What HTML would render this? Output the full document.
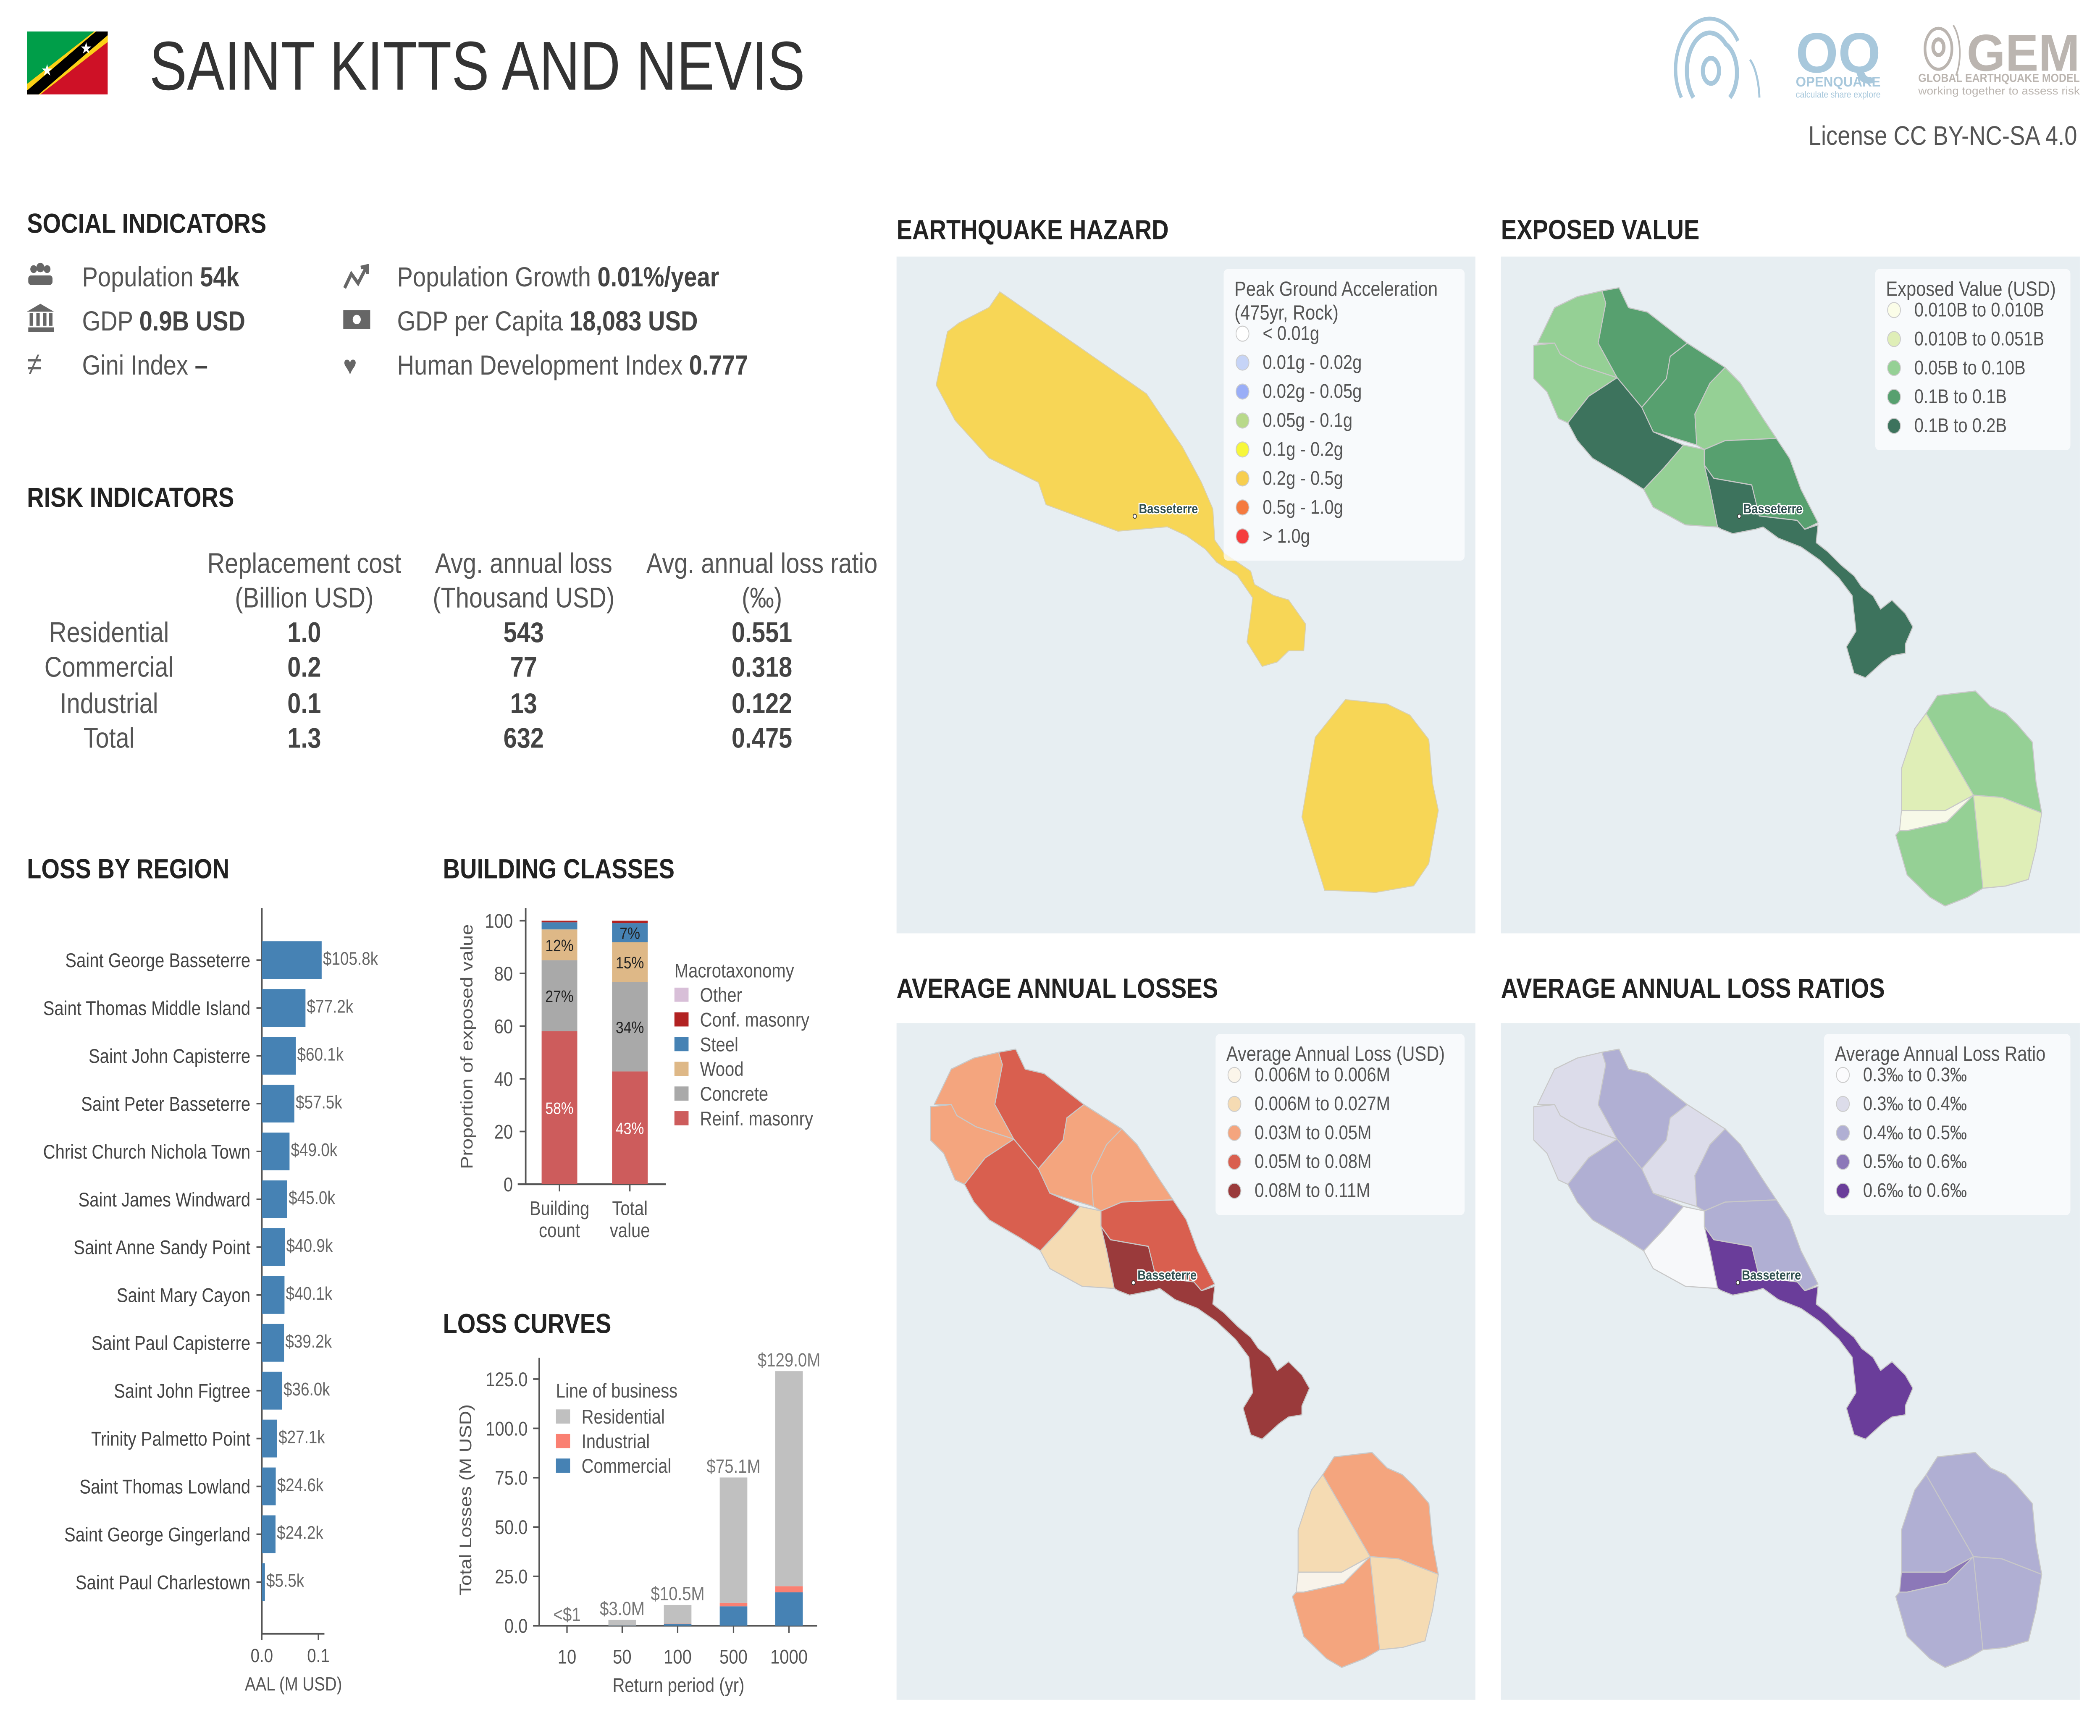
<!DOCTYPE html>
<html><head><meta charset="utf-8">
<style>
html,body{margin:0;padding:0;background:#fff;width:100%;height:100%;overflow:hidden;}
#root{position:fixed;left:0;top:0;width:100vw;height:100vh;display:block;}
text{font-family:"Liberation Sans",sans-serif;}
</style></head>
<body>
<svg id="root" xmlns="http://www.w3.org/2000/svg" viewBox="0 0 1560 1103" preserveAspectRatio="none">
<rect width="1560" height="1103" fill="#fff"/>

<g>
  <clipPath id="flagclip"><rect x="20" y="20" width="60" height="40"/></clipPath>
  <g clip-path="url(#flagclip)">
    <rect x="20" y="20" width="60" height="40" fill="#ce1126"/>
    <polygon points="20,20 80,20 20,60" fill="#009e49"/>
    <polygon points="10,60 70,20 90,20 30,60" fill="#fcd116"/>
    <polygon points="14,62 74,18 86,18 26,62" fill="#000"/>
    <text x="35" y="48" font-size="10" fill="#fff" text-anchor="middle">★</text>
    <text x="64" y="34" font-size="10" fill="#fff" text-anchor="middle">★</text>
  </g>
</g>
<text x="111" y="57" font-size="44" fill="#333" textLength="487" lengthAdjust="spacingAndGlyphs">SAINT KITTS AND NEVIS</text>

<g fill="none" stroke="#a8c8dc">
  <ellipse cx="1271" cy="45" rx="6" ry="8" stroke-width="3"/>
  <path d="M1258,62 A14,20 0 0 1 1282,28 A14,20 0 0 1 1285,62" stroke-width="3"/>
  <path d="M1249,62 A22,28 0 0 1 1291,26" stroke-width="2.5"/>
  <path d="M1300,38 A12,30 0 0 1 1307,62" stroke-width="1.5"/>
  <text x="1334" y="46" font-size="36" font-weight="bold" fill="#a8c8dc" stroke="none" textLength="63" lengthAdjust="spacingAndGlyphs">OQ</text>
  <text x="1334" y="55" font-size="9" font-weight="bold" fill="#a8c8dc" stroke="none" textLength="63" lengthAdjust="spacingAndGlyphs">OPENQUAKE</text>
  <text x="1334" y="62" font-size="6" fill="#a8c8dc" stroke="none" textLength="63" lengthAdjust="spacingAndGlyphs">calculate share explore</text>
</g>
<g fill="none" stroke="#bbb5b0">
  <ellipse cx="1440" cy="30" rx="4" ry="5" stroke-width="2.5"/>
  <ellipse cx="1440" cy="31" rx="10" ry="13" stroke-width="2"/>
  <path d="M1451,16 A12,22 0 0 1 1453,48" stroke-width="1.2"/>
  <text x="1461" y="45" font-size="33" font-weight="bold" fill="#bbb5b0" stroke="none" textLength="84" lengthAdjust="spacingAndGlyphs">GEM</text>
  <text x="1425" y="52" font-size="7.5" font-weight="bold" fill="#bbb5b0" stroke="none" textLength="120" lengthAdjust="spacingAndGlyphs">GLOBAL EARTHQUAKE MODEL</text>
  <text x="1425" y="60" font-size="7" fill="#bbb5b0" stroke="none" textLength="120" lengthAdjust="spacingAndGlyphs">working together to assess risk</text>
</g>
<text x="1543" y="92" font-size="17" fill="#555" text-anchor="end">License CC BY-NC-SA 4.0</text>

<g font-size="17.5" font-weight="bold" fill="#222">
<text x="20" y="148">SOCIAL INDICATORS</text>
<text x="20" y="322">RISK INDICATORS</text>
<text x="20" y="558">LOSS BY REGION</text>
<text x="329" y="558">BUILDING CLASSES</text>
<text x="329" y="847">LOSS CURVES</text>
<text x="666" y="152">EARTHQUAKE HAZARD</text>
<text x="1115" y="152">EXPOSED VALUE</text>
<text x="666" y="634">AVERAGE ANNUAL LOSSES</text>
<text x="1115" y="634">AVERAGE ANNUAL LOSS RATIOS</text>
</g>

<g font-size="17.5" fill="#555">
  <g fill="#666">
    <circle cx="25" cy="171" r="2.5"/><circle cx="30" cy="170" r="3"/><circle cx="35" cy="171" r="2.5"/>
    <rect x="21" y="175" width="18" height="6" rx="2"/>
  </g>
  <text x="61" y="182">Population <tspan font-weight="bold" fill="#444">54k</tspan></text>
  <g fill="#666">
    <polygon points="20,198 30,193 40,198"/><rect x="21" y="208" width="19" height="3"/>
    <rect x="22" y="199" width="2.5" height="8"/><rect x="27" y="199" width="2.5" height="8"/><rect x="32" y="199" width="2.5" height="8"/><rect x="36.5" y="199" width="2.5" height="8"/>
  </g>
  <text x="61" y="210">GDP <tspan font-weight="bold" fill="#444">0.9B USD</tspan></text>
  <text x="20" y="238" font-size="20" fill="#666">≠</text>
  <text x="61" y="238">Gini Index <tspan font-weight="bold" fill="#444">–</tspan></text>

  <path d="M256,183 L261,174 L266,180 L272,170 M268,170 L273,169 L273,174" stroke="#666" stroke-width="2.3" fill="none"/>
  <text x="295" y="182">Population Growth <tspan font-weight="bold" fill="#444">0.01%/year</tspan></text>
  <g><rect x="255" y="197" width="20" height="12" fill="#666"/><circle cx="265" cy="203" r="3" fill="#fff"/></g>
  <text x="295" y="210">GDP per Capita <tspan font-weight="bold" fill="#444">18,083 USD</tspan></text>
  <text x="255" y="238" font-size="17" fill="#666">♥</text>
  <text x="295" y="238">Human Development Index <tspan font-weight="bold" fill="#444">0.777</tspan></text>
</g>

<g font-size="18" fill="#555" text-anchor="middle">
  <text x="226" y="364">Replacement cost</text><text x="226" y="386">(Billion USD)</text>
  <text x="389" y="364">Avg. annual loss</text><text x="389" y="386">(Thousand USD)</text>
  <text x="566" y="364">Avg. annual loss ratio</text><text x="566" y="386">(‰)</text>
  <text x="81" y="408">Residential</text><text x="81" y="430">Commercial</text><text x="81" y="453">Industrial</text><text x="81" y="475">Total</text>
  <g font-weight="bold" fill="#444">
    <text x="226" y="408">1.0</text><text x="226" y="430">0.2</text><text x="226" y="453">0.1</text><text x="226" y="475">1.3</text>
    <text x="389" y="408">543</text><text x="389" y="430">77</text><text x="389" y="453">13</text><text x="389" y="475">632</text>
    <text x="566" y="408">0.551</text><text x="566" y="430">0.318</text><text x="566" y="453">0.122</text><text x="566" y="475">0.475</text>
  </g>
</g>

<g id="regionChart"></g>
<g id="classChart"></g>
<g id="curveChart"></g>
<g id="maps"></g>
</svg>

<script>
const regionNames = ["Saint George Basseterre","Saint Thomas Middle Island","Saint John Capisterre","Saint Peter Basseterre","Christ Church Nichola Town","Saint James Windward","Saint Anne Sandy Point","Saint Mary Cayon","Saint Paul Capisterre","Saint John Figtree","Trinity Palmetto Point","Saint Thomas Lowland","Saint George Gingerland","Saint Paul Charlestown"];
const regionAAL = [105.8,77.2,60.1,57.5,49.0,45.0,40.9,40.1,39.2,36.0,27.1,24.6,24.2,5.5];
const regionTicks = [0.0, 0.1];

const classCategories = ["Building count","Total value"];
const classNames = ["Reinf. masonry","Concrete","Wood","Steel","Conf. masonry","Other"];
const classColors = ["#cd5c5c","#a9a9a9","#deb887","#4682b4","#b22222","#d8bfd8"];
const classCount = [58.1,26.9,11.7,2.7,0.6,0.0];
const classValue = [42.8,34.0,15.0,7.3,0.9,0.0];
const classTicks = [0,20,40,60,80,100];

const returnPeriods = ["10","50","100","500","1000"];
const lossCommercial = [0.0,0.1,0.8,9.8,16.9];
const lossIndustrial = [0.0,0.0,0.2,1.8,3.1];
const lossResidential = [0.0,2.9,9.5,63.5,109.0];
const lossLabels = ["<$1","$3.0M","$10.5M","$75.1M","$129.0M"];
const lossTicks = [0,25,50,75,100,125];

const NS = "http://www.w3.org/2000/svg";
function mk(parent, tag, attrs, txt){
  const e = document.createElementNS(NS, tag);
  for (const k in attrs) e.setAttribute(k, attrs[k]);
  if (txt !== undefined) e.textContent = txt;
  parent.appendChild(e);
  return e;
}
const AX = "#555";

(function(){
  const g = document.getElementById("regionChart");
  const x0 = 194.5, xScale = v => x0 + v * 420;
  const yc = i => 610 + i * 30.4;
  const bh = 24;
  mk(g,"line",{x1:x0,y1:577,x2:x0,y2:1038,stroke:AX,"stroke-width":1.2});
  mk(g,"line",{x1:x0,y1:1038,x2:241,y2:1038,stroke:AX,"stroke-width":1.2});
  regionAAL.forEach((v,i)=>{
    const r = mk(g,"rect",{x:x0,y:yc(i)-bh/2,width:xScale(v/1000)-x0,height:bh,fill:"#4682b4"});
    
    
    mk(g,"line",{x1:x0-4,y1:yc(i),x2:x0,y2:yc(i),stroke:AX,"stroke-width":1});
    const t = mk(g,"text",{x:186,y:yc(i)+4.5,"font-size":12.5,fill:"#444","text-anchor":"end"},regionNames[i]);
    
    
    const vl = mk(g,"text",{x:xScale(v/1000)+1,y:yc(i)+3,"font-size":11.5,fill:"#666"},"$"+v.toFixed(1)+"k");
    
    
  });
  regionTicks.forEach(t=>{
    mk(g,"line",{x1:xScale(t),y1:1038,x2:xScale(t),y2:1042,stroke:AX});
    const tl = mk(g,"text",{x:xScale(t),y:1056,"font-size":12,fill:"#555","text-anchor":"middle"},t.toFixed(1));
    
    
  });
  const xt = mk(g,"text",{x:218,y:1074,"font-size":12,fill:"#555","text-anchor":"middle"},"AAL (M USD)");
  
  
})();

(function(){
  const g = document.getElementById("classChart");
  const y = v => 752.4 - v * 1.674;
  const xc = [415.6, 467.9], bw = 26.5;
  mk(g,"line",{x1:390.5,y1:577,x2:390.5,y2:752.4,stroke:AX,"stroke-width":1.2});
  mk(g,"line",{x1:384.6,y1:752.4,x2:494.6,y2:752.4,stroke:AX,"stroke-width":1.2});
  classTicks.forEach(t=>{
    mk(g,"line",{x1:386,y1:y(t),x2:390.5,y2:y(t),stroke:AX});
    const tl = mk(g,"text",{x:381,y:y(t)+4.5,"font-size":12.5,fill:"#555","text-anchor":"end"},String(t));
    
    
  });
  const yt = mk(g,"text",{x:0,y:0,"font-size":12.5,fill:"#555","text-anchor":"middle",transform:"translate(351,665) rotate(-90)"},"Proportion of exposed value");
  
  
  [classCount, classValue].forEach((vals,ci)=>{
    let acc = 0;
    vals.forEach((v,k)=>{
      if (v <= 0) return;
      const r = mk(g,"rect",{x:xc[ci]-bw/2,y:y(acc+v),width:bw,height:y(acc)-y(acc+v),fill:classColors[k]});
      
      
      if (v >= 5) {
        const lt = mk(g,"text",{x:xc[ci],y:(y(acc)+y(acc+v))/2+4,"font-size":10.5,fill:k===0?"#fff":"#222","text-anchor":"middle"},Math.round(v)+"%");
        
        
      }
      acc += v;
    });
    mk(g,"line",{x1:xc[ci],y1:752.4,x2:xc[ci],y2:757,stroke:AX});
    const parts = ci===0 ? ["Building","count"] : ["Total","value"];
    parts.forEach((p,j)=>{
      const xl = mk(g,"text",{x:xc[ci],y:772+j*14,"font-size":12.5,fill:"#555","text-anchor":"middle"},p);
      
      
    });
  });
  const lt = mk(g,"text",{x:501,y:621,"font-size":12.5,fill:"#555"},"Macrotaxonomy");
  
  
  const order = [5,4,3,2,1,0];
  order.forEach((k,j)=>{
    const yy = 632 + j*15.7;
    const sw = mk(g,"rect",{x:501,y:yy-4.5,width:10.5,height:9,fill:classColors[k]});
    
    
    const le = mk(g,"text",{x:520,y:yy+4.5,"font-size":12.5,fill:"#555"},classNames[k]);
    
    
  });
})();

(function(){
  const g = document.getElementById("curveChart");
  const y = v => 1032.9 - v * 1.2536;
  const xc = [421.2,462.2,503.4,544.9,586.1], bw = 20.5;
  mk(g,"line",{x1:400.6,y1:862.7,x2:400.6,y2:1032.9,stroke:AX,"stroke-width":1.2});
  mk(g,"line",{x1:396,y1:1032.9,x2:607,y2:1032.9,stroke:AX,"stroke-width":1.2});
  lossTicks.forEach(t=>{
    mk(g,"line",{x1:396,y1:y(t),x2:400.6,y2:y(t),stroke:AX});
    const tl = mk(g,"text",{x:392,y:y(t)+4.5,"font-size":12.5,fill:"#555","text-anchor":"end"},t.toFixed(1));
    
    
  });
  const yt = mk(g,"text",{x:0,y:0,"font-size":12.5,fill:"#555","text-anchor":"middle",transform:"translate(350,953) rotate(-90)"},"Total Losses (M USD)");
  
  
  const series = [[lossCommercial,"#4682b4"],[lossIndustrial,"#fa8072"],[lossResidential,"#c0c0c0"]];
  returnPeriods.forEach((rp,i)=>{
    let acc = 0;
    series.forEach(([arr,col])=>{
      const v = arr[i];
      if (v > 0) {
        const r = mk(g,"rect",{x:xc[i]-bw/2,y:y(acc+v),width:bw,height:y(acc)-y(acc+v),fill:col});
        
        
      }
      acc += v;
    });
    mk(g,"line",{x1:xc[i],y1:1032.9,x2:xc[i],y2:1037.5,stroke:AX});
    const tl = mk(g,"text",{x:xc[i],y:1057,"font-size":12.5,fill:"#555","text-anchor":"middle"},rp);
    
    
    const vl = mk(g,"text",{x:xc[i],y:y(acc)-3,"font-size":12,fill:"#777","text-anchor":"middle"},lossLabels[i]);
    
    
  });
  const xt = mk(g,"text",{x:504,y:1075,"font-size":12.5,fill:"#555","text-anchor":"middle"},"Return period (yr)");
  
  
  const lt = mk(g,"text",{x:413,y:888,"font-size":12.5,fill:"#555"},"Line of business");
  
  
  [["Residential","#c0c0c0"],["Industrial","#fa8072"],["Commercial","#4682b4"]].forEach(([n,c],j)=>{
    const yy = 900 + j*15.6;
    const sw = mk(g,"rect",{x:413,y:yy-4.5,width:10.5,height:9,fill:c});
    
    
    const le = mk(g,"text",{x:432,y:yy+4.5,"font-size":12.5,fill:"#555"},n);
    
    
  });
})();

const regionPolys = {
  A:"105,190 150,110 210,85 275,72 285,100 265,190 315,268 215,240 165,215 150,190",
  B:"95,195 150,190 165,215 215,240 315,268 240,310 185,370 160,360 130,300 95,270",
  C:"275,72 320,65 345,110 395,120 500,190 455,220 445,270 380,335 315,268 265,190 285,100",
  D:"500,190 600,245 560,280 520,350 525,420 410,390 380,335 445,270 455,220",
  E:"600,245 640,280 700,360 735,405 600,410 545,430 525,420 520,350 560,280",
  F:"185,370 240,310 315,268 380,335 410,390 490,420 440,470 385,520 330,490 250,450 210,410",
  G:"385,520 440,470 490,420 545,430 545,465 560,520 580,605 495,600 410,560",
  H:"545,430 600,410 735,405 770,450 800,520 845,595 810,610 790,590 690,580 670,510 570,495 545,465",
  I:"545,465 570,495 670,510 690,580 790,590 810,610 845,600 840,640 870,660 905,690 940,715 960,740 990,760 1010,790 1040,770 1075,800 1095,830 1075,870 1075,890 1040,895 1015,910 970,945 940,935 920,875 945,840 940,800 935,760 900,720 850,680 800,650 740,630 700,605 680,610 620,620 590,610 580,605 560,520",
  N1:"1130,1025 1160,985 1260,975 1300,1010 1340,1025 1370,1050 1410,1090 1420,1180 1435,1250 1330,1215 1255,1210",
  N2:"1130,1025 1255,1210 1180,1245 1065,1245 1065,1150 1100,1060",
  N3:"1065,1245 1180,1245 1255,1210 1185,1270 1080,1290 1060,1290",
  N4:"1060,1290 1080,1290 1185,1270 1255,1210 1280,1420 1240,1440 1180,1460 1140,1440 1080,1390 1050,1300",
  N5:"1255,1210 1330,1215 1435,1250 1420,1330 1400,1400 1340,1415 1280,1420"
};
const exposedColors = {A:"#95d095",B:"#95d095",C:"#57a06f",D:"#57a06f",E:"#95d095",F:"#3d735d",G:"#95d095",H:"#57a06f",I:"#3d735d",N1:"#95d095",N2:"#dfeeb7",N3:"#f7f9e8",N4:"#95d095",N5:"#dfeeb7"};
const aalColors = {A:"#f4a57e",B:"#f4a57e",C:"#d95f4f",D:"#f4a57e",E:"#f4a57e",F:"#d95f4f",G:"#f5dbb3",H:"#d95f4f",I:"#9a3a3b",N1:"#f4a57e",N2:"#f5dbb3",N3:"#f8f3ea",N4:"#f4a57e",N5:"#f5dbb3"};
const ratioColors = {A:"#dcdcea",B:"#dcdcea",C:"#b0afd3",D:"#dcdcea",E:"#b0afd3",F:"#b0afd3",G:"#f7f8fa",H:"#b0afd3",I:"#6a3d9a",N1:"#b0afd3",N2:"#b0afd3",N3:"#8c78b8",N4:"#b0afd3",N5:"#b0afd3"};

const hazardLegend = ["< 0.01g","0.01g - 0.02g","0.02g - 0.05g","0.05g - 0.1g","0.1g - 0.2g","0.2g - 0.5g","0.5g - 1.0g","> 1.0g"];
const hazardLegendColors = ["#ffffff","#c6d4f7","#9aaef7","#b8d98a","#f7f73a","#f7ce4f","#f57a3f","#f53d3d"];
const exposedLegend = ["0.010B to 0.010B","0.010B to 0.051B","0.05B to 0.10B","0.1B to 0.1B","0.1B to 0.2B"];
const exposedLegendColors = ["#fbfde8","#dfeeb7","#95d095","#57a06f","#3d735d"];
const aalLegend = ["0.006M to 0.006M","0.006M to 0.027M","0.03M to 0.05M","0.05M to 0.08M","0.08M to 0.11M"];
const aalLegendColors = ["#fbf5ea","#f5dbb3","#f4a57e","#d95f4f","#9a3a3b"];
const ratioLegend = ["0.3‰ to 0.3‰","0.3‰ to 0.4‰","0.4‰ to 0.5‰","0.5‰ to 0.6‰","0.6‰ to 0.6‰"];
const ratioLegendColors = ["#fbfbfd","#dcdcea","#b0afd3","#8c78b8","#6a3d9a"];

(function(){
  const g = document.getElementById("maps");
  function panel(name,x,y){
    const r = mk(g,"rect",{x:x,y:y,width:430,height:430,fill:"#e7eef2"});
    
    
  }
  function legend(name,x,y,w,titleLines,items,colors){
    const lg = mk(g,"g",{});
    
    
    const h = titleLines.length*15 + items.length*18.4 + 8;
    mk(lg,"rect",{x:x,y:y,width:w,height:h,rx:3,fill:"rgba(255,255,255,0.72)"});
    titleLines.forEach((t,i)=>mk(lg,"text",{x:x+8,y:y+17+i*15,"font-size":13,fill:"#555"},t));
    const base = y + 17 + titleLines.length*15 + 3;
    items.forEach((t,i)=>{
      const yy = base + i*18.4 - 5;
      mk(lg,"circle",{cx:x+14,cy:yy-4,r:4.8,fill:colors[i],stroke:"#ccc","stroke-width":0.6});
      const e = mk(lg,"text",{x:x+29,y:yy,"font-size":12.5,fill:"#555"},t);
      
      
    });
  }
  function city(x,y){
    mk(g,"circle",{cx:x-3,cy:y+2,r:1.3,fill:"#fff",stroke:"#333","stroke-width":0.5});
    const t = mk(g,"text",{x:x,y:y,"font-size":8.5,"font-weight":"bold",fill:"#2f4f4f",stroke:"#fff","stroke-width":1.6,"paint-order":"stroke"},"Basseterre");
    
    
  }
  function choropleth(name,ox,oy,colors){
    const grp = mk(g,"g",{transform:`translate(${ox},${oy}) scale(0.2816)`});
    
    
    Object.keys(regionPolys).forEach(k=>{
      const p = mk(grp,"polygon",{points:regionPolys[k],fill:colors[k],stroke:"#c8c8c8","stroke-width":2.5,"stroke-linejoin":"round"});
      
      
    });
  }
  panel("hazard-map-panel",666,163);
  const hk = mk(g,"polygon",{points:"742.7,185.4 851.7,250.2 878.4,284 892.5,306.5 901,323.4 902.4,343.1 909.4,351.6 929.1,362.9 931.9,371.3 946,378.3 957.3,381.2 970,396.6 968.5,413.5 957.3,413.5 948.8,420.6 937.6,423.4 926.3,407.9 929.1,391 930.5,379.8 919.2,365.7 903.8,357.2 895.3,348.8 881.2,340.3 867.1,334.7 830.5,337.5 777,320.6 771.4,306.5 734.8,291 709.5,267.1 695.4,244.6 703.8,210.8 712.3,205.2 734.8,195.3",fill:"#f7d656",stroke:"#d8d0b0","stroke-width":0.6});
  
  
  const hn = mk(g,"polygon",{points:"999.5,444.5 1030.5,447.3 1047.4,454.4 1061.4,469.9 1064.3,498 1068.5,514.9 1061.4,548.7 1050.2,562.8 1022,567 984,565.6 967.1,519.1 977,468.5",fill:"#f7d656",stroke:"#d8d0b0","stroke-width":0.6});
  
  
  city(846,326);
  legend("hazard-legend",909,171,179,["Peak Ground Acceleration","(475yr, Rock)"],hazardLegend,hazardLegendColors);

  panel("exposed-value-map-panel",1115,163);
  choropleth("exposed-value-map",1112.6,164.5,exposedColors);
  city(1295,326);
  legend("exposed-value-legend",1393,171,145,["Exposed Value (USD)"],exposedLegend,exposedLegendColors);

  panel("aal-map-panel",666,650);
  choropleth("aal-map",664.4,648.3,aalColors);
  city(845,813);
  legend("aal-legend",903,657,185,["Average Annual Loss (USD)"],aalLegend,aalLegendColors);

  panel("aal-ratio-map-panel",1115,650);
  choropleth("aal-ratio-map",1112.6,648.3,ratioColors);
  city(1294,813);
  legend("aal-ratio-legend",1355,657,183,["Average Annual Loss Ratio"],ratioLegend,ratioLegendColors);
})();
</script>
</body></html>
